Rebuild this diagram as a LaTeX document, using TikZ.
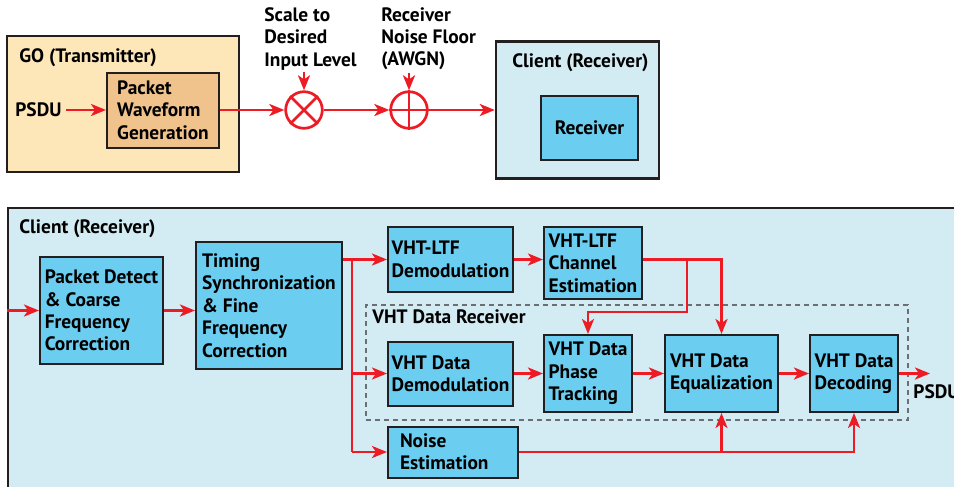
\documentclass[tikz,border=0pt]{standalone}
\usepackage{fontspec}
\setmainfont{PT Sans}
\usetikzlibrary{arrows.meta}
\definecolor{wirered}{HTML}{ED1C24}
\definecolor{edge}{HTML}{231F20}
\definecolor{goorange}{HTML}{FDE6B7}
\definecolor{pwgorange}{HTML}{F0C28C}
\definecolor{panelblue}{HTML}{D3ECF4}
\definecolor{blkblue}{HTML}{6BCDEF}
\definecolor{dashgray}{HTML}{6D6E71}

\begin{document}
\begin{tikzpicture}[x=0.5pt, y=-0.5pt,
  font=\fontsize{9.7}{11.2}\selectfont\bfseries,
  wire/.style  = { draw=wirered, line width=1.35pt,
                   -{Stealth[length=7.5pt, width=6pt, inset=2pt]} },
  plain/.style = { draw=wirered, line width=1.35pt },
  blk/.style   = { draw=edge, line width=1pt, fill=blkblue, align=left, inner sep=1pt },
  panel/.style = { draw=edge, line width=1.2pt },
  title/.style = { anchor=base west, inner sep=0pt },
  note/.style  = { anchor=north west, align=left, inner sep=0pt },
  mixer/.style = { circle, draw=wirered, line width=1.35pt, minimum size=18.3pt, inner sep=0pt }]
  \path[use as bounding box, clip] (0,0) rectangle (954,487);

  % transmitter side
  \node[panel, fill=goorange, minimum width=116pt, minimum height=68pt] (go) at (123,104) {};
  \node[title] (gotitle) at (19,62) {GO (Transmitter)};
  \node[blk, fill=pwgorange, minimum width=56pt, minimum height=37.5pt] (pwg) at (163,110)
    {Packet\\Waveform\\Generation};
  \node[anchor=west, inner sep=2pt] (psdu) at (11,110) {PSDU};
  \node[mixer] (mul) at (304,110) {};
  \node[mixer] (add) at (409,110) {};
  \node[note] (scale) at (264,7) {Scale to\\Desired\\Input Level};
  \node[note] (noise) at (381,7) {Receiver\\Noise Floor\\(AWGN)};
  \node[panel, fill=panelblue, minimum width=81.5pt, minimum height=68.5pt] (rx) at (577.5,110) {};
  \node[title] (rxtitle) at (512,67) {Client (Receiver)};
  \node[blk, minimum width=48.5pt, minimum height=32pt] (rcv) at (589.5,128) {Receiver};

  \draw[plain] (mul.north west) -- (mul.south east) (mul.north east) -- (mul.south west);
  \draw[plain] (add.north) -- (add.south) (add.west) -- (add.east);
  \draw[wire] (psdu) -- (pwg);
  \draw[wire] (pwg) -- (mul);
  \draw[wire] (mul) -- (add);
  \draw[wire] (add) -- (rx);
  \draw[wire] ([yshift=-1pt]scale.south -| mul) -- (mul);
  \draw[wire] ([yshift=-1pt]noise.south -| add) -- (add);

  % receiver chain
  \node[panel, fill=panelblue, anchor=north west, minimum width=500pt, minimum height=160pt] (cl) at (7,207) {};
  \node[title] (cltitle) at (19,233) {Client (Receiver)};
  \node[draw=dashgray, line width=0.9pt, dash pattern=on 2.5pt off 2pt,
        minimum width=271pt, minimum height=57.5pt] (vdr) at (637,362.5) {};
  \node[title] (vdrtitle) at (372,323) {VHT Data Receiver};

  \node[blk, minimum width=61.5pt, minimum height=53.5pt] (pd) at (101.5,310.5)
    {Packet Detect\\\& Coarse\\Frequency\\Correction};
  \node[blk, minimum width=73pt, minimum height=63.5pt] (tim) at (269,305.5)
    {Timing\\Synchronization\\\& Fine\\Frequency\\Correction};
  \node[blk, minimum width=62.5pt, minimum height=32.5pt] (ltfd) at (450.5,259.5) {VHT-LTF\\Demodulation};
  \node[blk, minimum width=49pt, minimum height=36pt] (ce) at (593,263) {VHT-LTF\\Channel\\Estimation};
  \node[blk, minimum width=62.5pt, minimum height=32pt] (dd) at (450.5,373.5) {VHT Data\\Demodulation};
  \node[blk, minimum width=44pt, minimum height=38.5pt] (pt) at (588,373.5) {VHT Data\\Phase\\Tracking};
  \node[blk, minimum width=56.5pt, minimum height=38.5pt] (eq) at (721.5,373.5) {VHT Data\\Equalization};
  \node[blk, minimum width=44pt, minimum height=38.5pt] (dec) at (854,373.5) {VHT Data\\Decoding};
  \node[blk, inner xsep=6pt, text width=53pt, minimum height=25.5pt] (ne) at (453,452) {Noise\\Estimation};
  \node[anchor=north west, inner sep=0pt] (psduout) at (913,384) {PSDU};

  \coordinate (in)  at (cl.west |- pd);
  \coordinate (br)  at (352,259.5);
  \coordinate (tap) at (687,312);
  \coordinate (out) at (930,373.5);

  \draw[wire] (in) -- (pd);
  \draw[wire] (pd.east) -- (pd.east -| tim.west);
  \draw[plain] (tim.east |- br) -- (br) -- (br |- ne);
  \draw[wire] (br) -- (ltfd);
  \draw[wire] (br |- dd) -- (dd);
  \draw[wire] (br |- ne) -- (ne);
  \draw[wire] (ltfd) -- (ltfd -| ce.west);
  \draw[wire] (ce.east |- ltfd) -| (eq.north);
  \draw[wire] (tap |- ltfd) -- (tap) -| (pt.north);
  \foreach \a/\b in {dd/pt, pt/eq, eq/dec}
    \draw[wire] (\a) -- (\b);
  \draw[wire] (dec) -- (out);
  \draw[wire] (ne) -| (dec.south);
  \draw[wire] (ne -| eq.south) -- (eq.south);
\end{tikzpicture}
\end{document}
